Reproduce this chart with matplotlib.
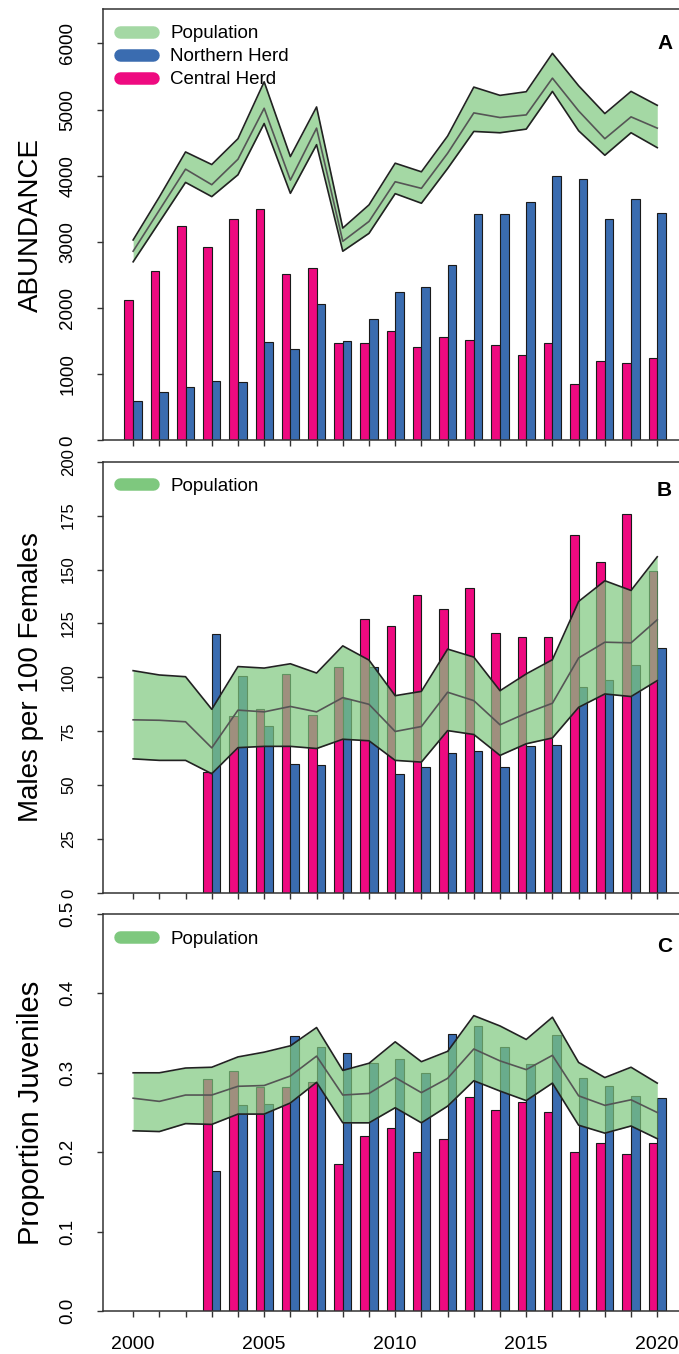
import numpy as np
import matplotlib
matplotlib.use("Agg")
import matplotlib.pyplot as plt
from matplotlib.lines import Line2D

plt.rcParams['font.family'] = ['Liberation Sans', 'DejaVu Sans']

years = np.arange(2000, 2021)
nan = np.nan

# A: abundance
central_abund = [2120, 2560, 3240, 2925, 3340, 3505, 2510, 2610, 1470, 1470, 1660,
                 1415, 1560, 1515, 1440, 1295, 1470, 855, 1200, 1175, 1245]
northern_abund = [590, 735, 805, 905, 885, 1490, 1390, 2070, 1510, 1830, 2240,
                  2315, 2655, 3415, 3415, 3605, 3990, 3945, 3340, 3655, 3435]
pop_abund_hi = [3030, 3680, 4360, 4170, 4560, 5420, 4290, 5040, 3210, 3560, 4190,
                4060, 4600, 5340, 5215, 5270, 5850, 5360, 4940, 5275, 5065]
pop_abund_mid = [2860, 3480, 4100, 3865, 4250, 5020, 3935, 4720, 3010, 3310, 3910,
                 3810, 4340, 4950, 4880, 4920, 5475, 4980, 4560, 4890, 4720]
pop_abund_lo = [2700, 3300, 3900, 3685, 4015, 4790, 3735, 4470, 2860, 3130, 3730,
                3585, 4110, 4670, 4650, 4705, 5275, 4680, 4310, 4650, 4425]

# B: males per 100 females
central_ratio = [nan, nan, nan, 56, 82, 85.5, 101.5, 82.5, 105, 127, 124,
                 138.3, 131.7, 141.4, 120.5, 118.7, 118.7, 166, 153.3, 175.8, 149.5]
northern_ratio = [nan, nan, nan, 120, 100.5, 77.5, 60, 59.3, 90, 104.7, 55.3,
                  58.3, 65.1, 65.9, 58.3, 68.2, 68.8, 95.4, 98.8, 105.6, 113.6]
pop_ratio_hi = [103.1, 101.1, 100.3, 85.2, 105, 104.3, 106.3, 102, 114.6, 108, 91.5,
                93.5, 113.1, 109.4, 93.8, 101.6, 108.2, 135.2, 144.8, 140.3, 155.9]
pop_ratio_mid = [80.3, 80.1, 79.4, 67.3, 84.8, 84, 86.5, 84, 90.6, 87.5, 74.9,
                 77.2, 93.1, 89.2, 78, 83.4, 88, 109, 116.3, 116, 126.7]
pop_ratio_lo = [62.2, 61.5, 61.5, 55.3, 67.4, 68, 68, 67, 71.3, 70.6, 61.5,
                60.7, 75.3, 73.5, 63.8, 69.2, 71.9, 86.1, 92.3, 91.1, 98.5]

# C: proportion juveniles
central_juv = [nan, nan, nan, 0.292, 0.302, 0.282, 0.282, 0.288, 0.185, 0.221, 0.231,
               0.200, 0.216, 0.269, 0.253, 0.263, 0.251, 0.200, 0.212, 0.198, 0.212]
northern_juv = [nan, nan, nan, 0.176, 0.259, 0.261, 0.346, 0.333, 0.325, 0.312, 0.318,
                0.300, 0.349, 0.359, 0.333, 0.311, 0.347, 0.294, 0.284, 0.271, 0.268]
pop_juv_hi = [0.300, 0.300, 0.306, 0.307, 0.320, 0.326, 0.334, 0.357, 0.303, 0.312, 0.339,
              0.314, 0.327, 0.372, 0.359, 0.342, 0.370, 0.313, 0.294, 0.307, 0.287]
pop_juv_mid = [0.268, 0.264, 0.272, 0.272, 0.283, 0.284, 0.296, 0.321, 0.272, 0.274, 0.294,
               0.275, 0.293, 0.330, 0.315, 0.304, 0.322, 0.271, 0.259, 0.266, 0.250]
pop_juv_lo = [0.227, 0.226, 0.236, 0.235, 0.248, 0.248, 0.262, 0.288, 0.237, 0.237, 0.256,
              0.237, 0.258, 0.290, 0.277, 0.265, 0.287, 0.234, 0.224, 0.233, 0.217]

PINK = "#EE0A80"
BLUE = "#3A6CB0"
GREEN = "#7EC87E"
GREEN_LIGHT = "#A4D8A4"
BAR_W = 0.33

W, H = 679, 1354
fig = plt.figure(figsize=(W / 100, H / 100), dpi=100)


def px_axes(top, bottom, left=103):
    return fig.add_axes([left / W, 1 - bottom / H, 1 - left / W, (bottom - top) / H])


def draw_panel(ax, central, northern, lo, mid, hi, ylim, yticks, ylabels,
               ylab, ylab_size, letter, letter_y, tick_size):
    ax.bar(years - BAR_W / 2, central, width=BAR_W, color=PINK,
           edgecolor="#1a1a1a", linewidth=0.8, zorder=2)
    ax.bar(years + BAR_W / 2, northern, width=BAR_W, color=BLUE,
           edgecolor="#1a1a1a", linewidth=0.8, zorder=2)
    ax.fill_between(years, lo, hi, color=GREEN, alpha=0.7, linewidth=0, zorder=3)
    ax.plot(years, hi, color="#222222", lw=1.2, zorder=4)
    ax.plot(years, lo, color="#222222", lw=1.2, zorder=4)
    ax.plot(years, mid, color="#555555", lw=1.2, zorder=4)

    ax.set_xlim(1998.85, 2020.83)
    ax.set_ylim(*ylim)
    ax.set_xticks(years)
    ax.set_yticks(yticks, ylabels, rotation=90, va="center")
    ax.tick_params(axis="y", length=4.3, width=1, pad=15, labelsize=tick_size,
                   color="#333333")
    ax.tick_params(axis="x", length=4.3, width=1, color="#333333")
    for s in ("left", "bottom", "top"):
        ax.spines[s].set_linewidth(1.1)
        ax.spines[s].set_color("#333333")
    ax.spines["right"].set_visible(False)

    ax.text(-0.125, 0.5, ylab, transform=ax.transAxes, rotation=90,
            ha="center", va="center", fontsize=ylab_size)
    ax.text(0.975, letter_y, letter, transform=ax.transAxes, ha="center",
            va="center", fontsize=15, fontweight="bold")


axA = px_axes(9, 440.5)
axB = px_axes(461.7, 893)
axC = px_axes(914, 1311)

draw_panel(axA, central_abund, northern_abund, pop_abund_lo, pop_abund_mid,
           pop_abund_hi, (0, 6520), range(0, 7000, 1000),
           [str(v) for v in range(0, 7000, 1000)], "ABUNDANCE", 20, "A", 0.921, 13.5)
draw_panel(axB, central_ratio, northern_ratio, pop_ratio_lo, pop_ratio_mid,
           pop_ratio_hi, (0, 200), range(0, 225, 25),
           [str(v) for v in range(0, 225, 25)], "Males per 100 Females", 20, "B", 0.934, 12)
draw_panel(axC, central_juv, northern_juv, pop_juv_lo, pop_juv_mid, pop_juv_hi,
           (0, 0.5), np.arange(0, 0.55, 0.1),
           ["0.0", "0.1", "0.2", "0.3", "0.4", "0.5"], "Proportion Juveniles", 21, "C", 0.917, 13.5)

axA.set_xticklabels([])
axB.set_xticklabels([])
axC.set_xticklabels([str(y) if y % 5 == 0 else "" for y in years])
axC.tick_params(axis="x", labelsize=14, pad=14)

# legends
leg_kw = dict(loc="upper left", frameon=False, fontsize=13.5, handlelength=1.75,
              handletextpad=0.95, labelspacing=0.32, borderpad=0, borderaxespad=0)
hA = [Line2D([], [], color=GREEN_LIGHT, lw=9, solid_capstyle="round"),
      Line2D([], [], color=BLUE, lw=9, solid_capstyle="round"),
      Line2D([], [], color=PINK, lw=9, solid_capstyle="round")]
axA.legend(hA, ["Population", "Northern Herd", "Central Herd"],
           bbox_to_anchor=(0.029, 0.963), **leg_kw)
hP = [Line2D([], [], color=GREEN, lw=9, solid_capstyle="round")]
axB.legend(hP, ["Population"], bbox_to_anchor=(0.029, 0.963), **leg_kw)
axC.legend(hP, ["Population"], bbox_to_anchor=(0.029, 0.958), **leg_kw)

fig.savefig("out.png", dpi=100)
